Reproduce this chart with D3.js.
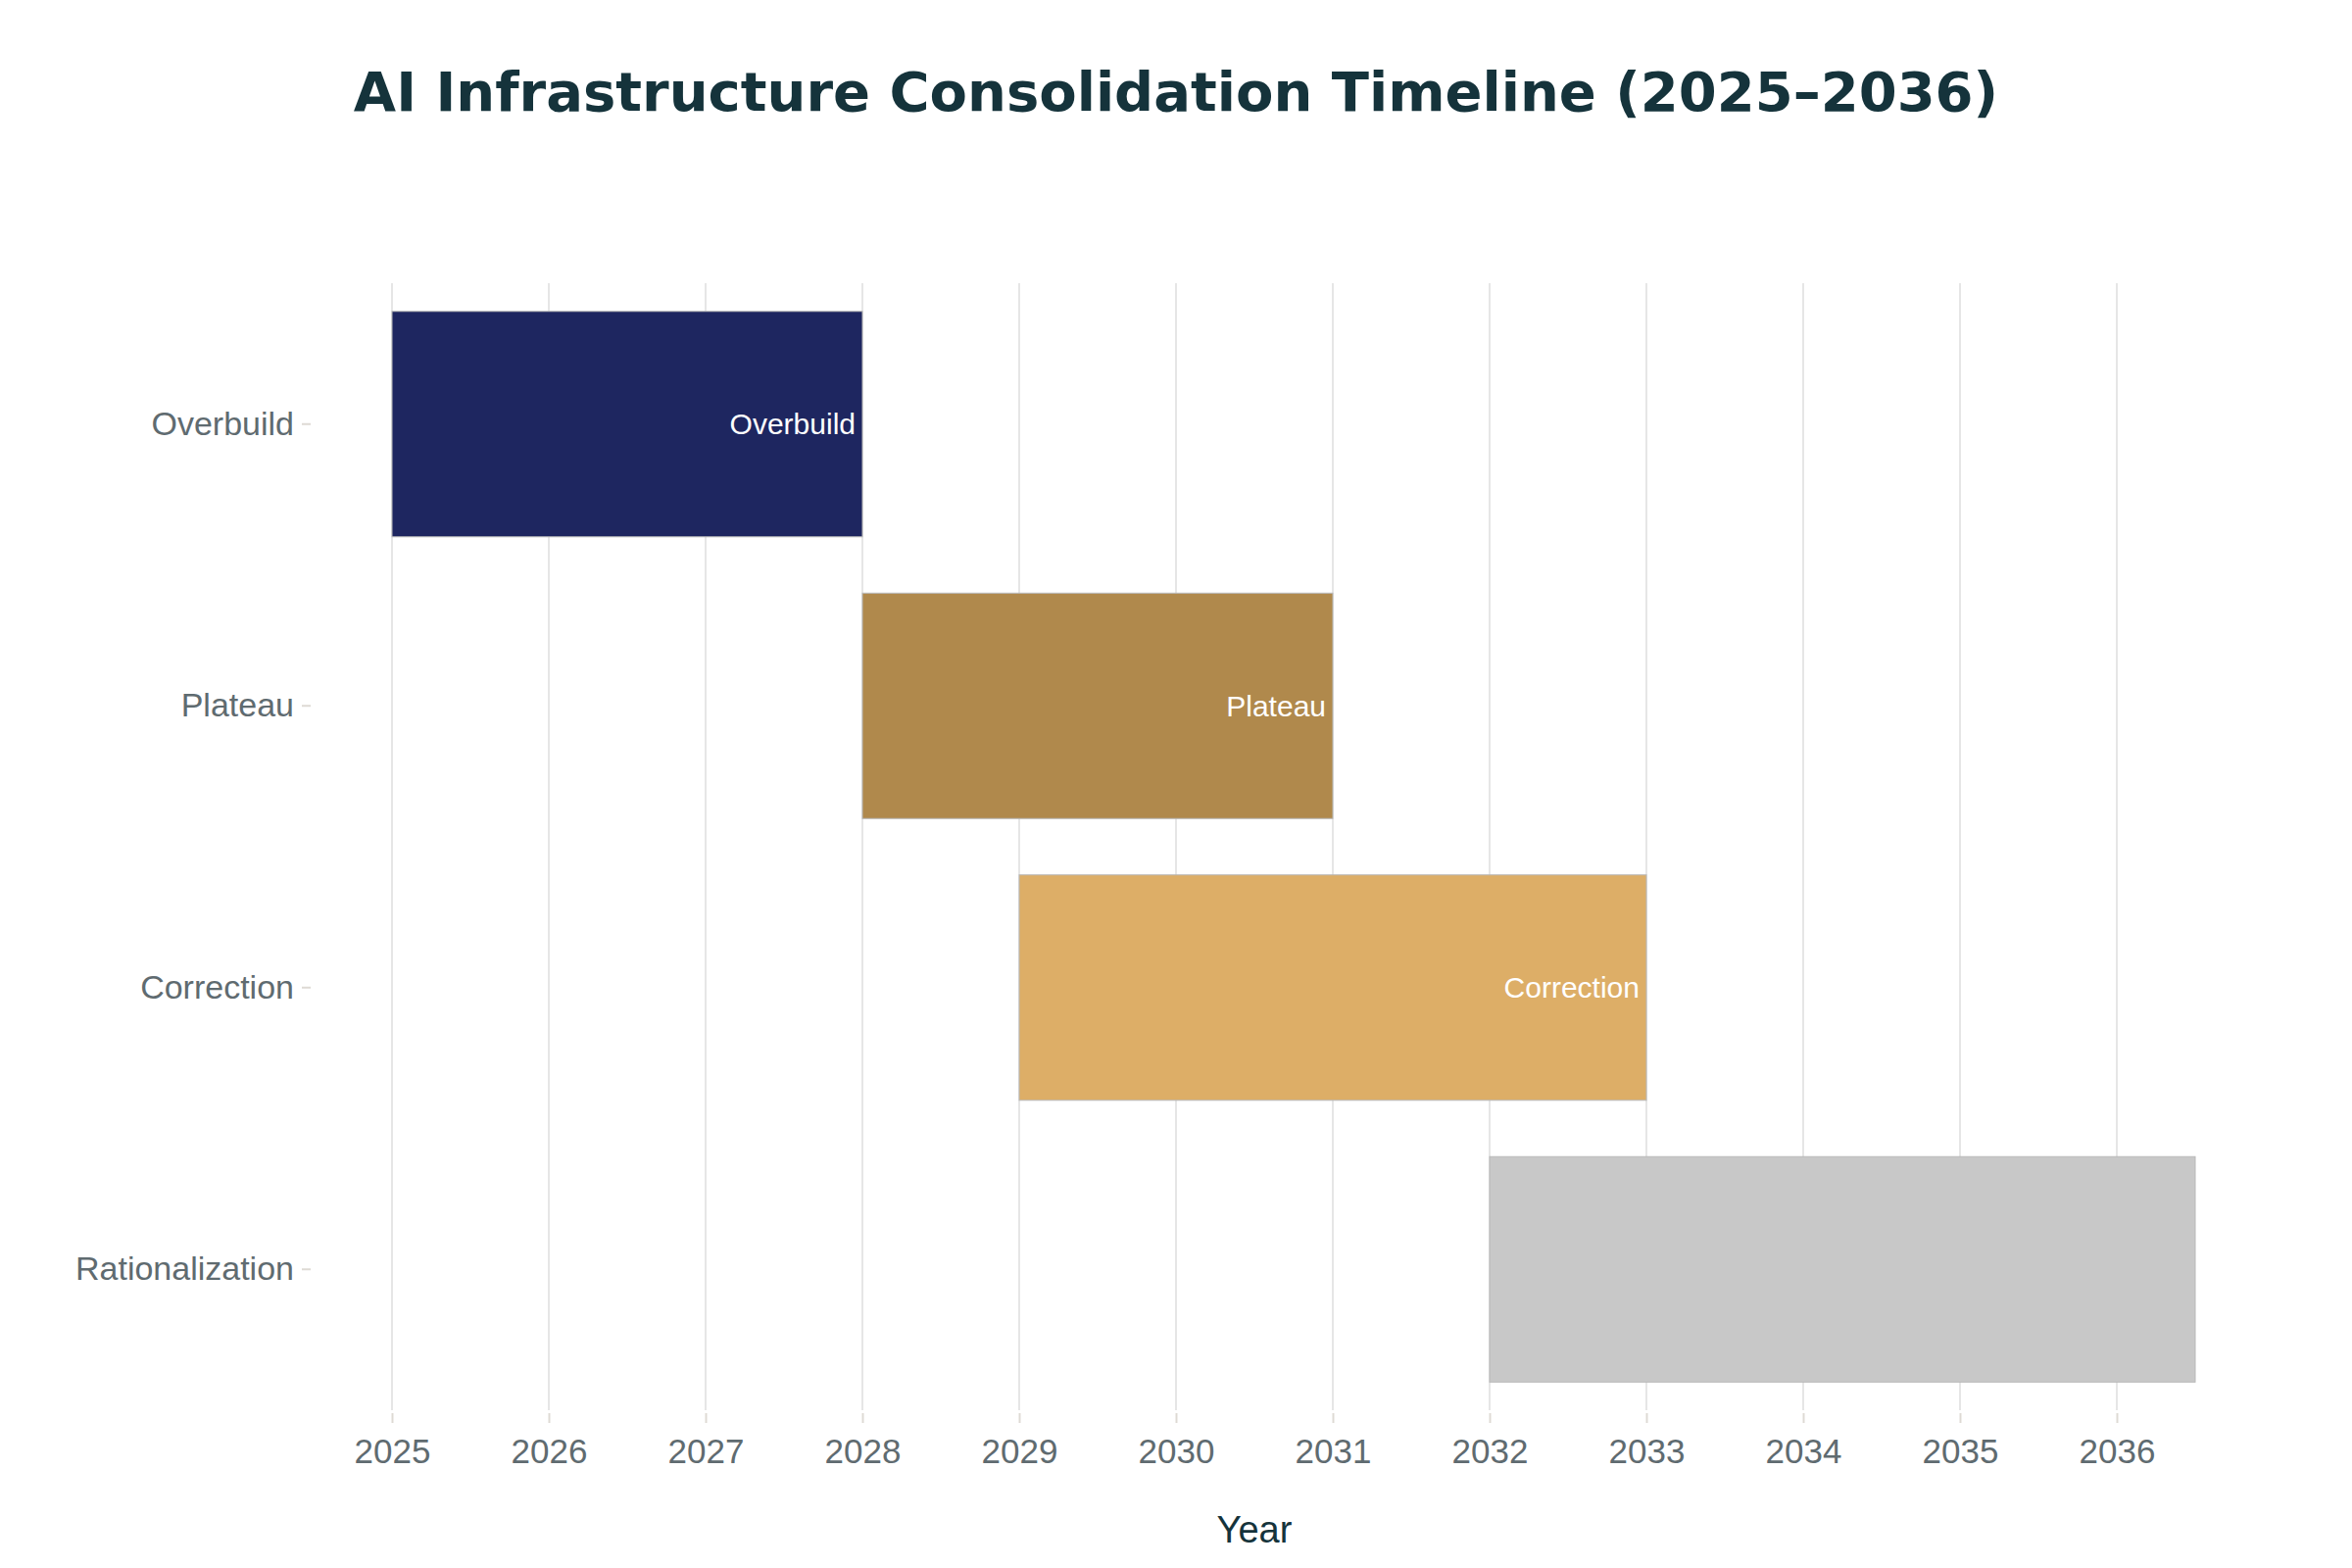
<!DOCTYPE html>
<html>
<head>
<meta charset="utf-8">
<script src="https://cdn.jsdelivr.net/npm/d3@7"></script>
<style>
  html, body { margin: 0; padding: 0; background: #ffffff; }
  svg { display: block; }
</style>
</head>
<body>
<svg id="chart" width="2400" height="1600"></svg>
<script>
// ---- data ----
const phases = ["Overbuild", "Plateau", "Correction", "Rationalization"];
const startYears = [2025, 2028, 2029, 2032];
const endYears = [2028, 2031, 2033, 2036.5];
const barLabels = ["Overbuild", "Plateau", "Correction", ""];
const barColors = ["#1e2660", "#b0894c", "#ddae67", "#c8c8c8"];
const xTickValues = [2025, 2026, 2027, 2028, 2029, 2030, 2031, 2032, 2033, 2034, 2035, 2036];
const xDomain = [2024.5, 2036.5];
const titleText = "AI Infrastructure Consolidation Timeline (2025–2036)";
const xAxisTitle = "Year";

// ---- layout ----
const W = 2400, H = 1600;
const plot = { left: 320, right: 2240, top: 289, bottom: 1439 };
const svg = d3.select("#chart");
svg.append("rect").attr("width", W).attr("height", H).attr("fill", "#ffffff");

const x = d3.scaleLinear().domain(xDomain).range([plot.left, plot.right]);
const y = d3.scaleBand().domain(phases).range([plot.top, plot.bottom])
  .paddingInner(0.2).paddingOuter(0.1);

const rows = phases.map((p, i) => ({
  phase: p, start: startYears[i], end: endYears[i], label: barLabels[i], color: barColors[i]
}));

// gridlines
svg.append("g").selectAll("line").data(xTickValues).join("line")
  .attr("x1", d => x(d)).attr("x2", d => x(d))
  .attr("y1", plot.top).attr("y2", plot.bottom)
  .attr("stroke", "#e6e6e6").attr("stroke-width", 2);

// x axis
const xAxis = d3.axisBottom(x).tickValues(xTickValues).tickFormat(d3.format("d"))
  .tickSize(10).tickPadding(16);
const gx = svg.append("g").attr("transform", `translate(0,${plot.bottom + 3})`).call(xAxis);
gx.select(".domain").remove();
gx.selectAll(".tick line").attr("stroke", "#dedad4").attr("stroke-width", 2);
gx.selectAll(".tick text")
  .attr("fill", "#5f6b70")
  .attr("font-family", "'Liberation Sans', Arial, sans-serif")
  .attr("font-size", 35);

// y axis
const yAxis = d3.axisLeft(y).tickSize(9).tickPadding(8);
const gy = svg.append("g").attr("transform", `translate(${plot.left - 3},0)`).call(yAxis);
gy.select(".domain").remove();
gy.selectAll(".tick line").attr("stroke", "#dedad4").attr("stroke-width", 2);
gy.selectAll(".tick text")
  .attr("fill", "#5f6b70")
  .attr("font-family", "'Liberation Sans', Arial, sans-serif")
  .attr("font-size", 34);

// bars
svg.append("g").selectAll("rect").data(rows).join("rect")
  .attr("x", d => x(d.start))
  .attr("y", d => y(d.phase))
  .attr("width", d => x(d.end) - x(d.start))
  .attr("height", y.bandwidth())
  .attr("fill", d => d.color)
  .attr("stroke", "#b8b8b8")
  .attr("stroke-width", 1);

// bar labels
svg.append("g").selectAll("text").data(rows.filter(d => d.label)).join("text")
  .attr("x", d => x(d.end) - 7)
  .attr("y", d => y(d.phase) + y.bandwidth() / 2)
  .attr("dy", "0.35em")
  .attr("text-anchor", "end")
  .attr("fill", "#ffffff")
  .attr("font-family", "'Liberation Sans', Arial, sans-serif")
  .attr("font-size", 30)
  .text(d => d.label);

// title
svg.append("text")
  .attr("x", W / 2).attr("y", 113)
  .attr("text-anchor", "middle")
  .attr("fill", "#15333b")
  .attr("font-family", "'DejaVu Sans', sans-serif")
  .attr("font-weight", "bold")
  .attr("font-size", 56)
  .text(titleText);

// x axis title
svg.append("text")
  .attr("x", (plot.left + plot.right) / 2).attr("y", 1574)
  .attr("text-anchor", "middle")
  .attr("fill", "#15333b")
  .attr("font-family", "'Liberation Sans', Arial, sans-serif")
  .attr("font-size", 38)
  .text(xAxisTitle);
</script>
</body>
</html>
